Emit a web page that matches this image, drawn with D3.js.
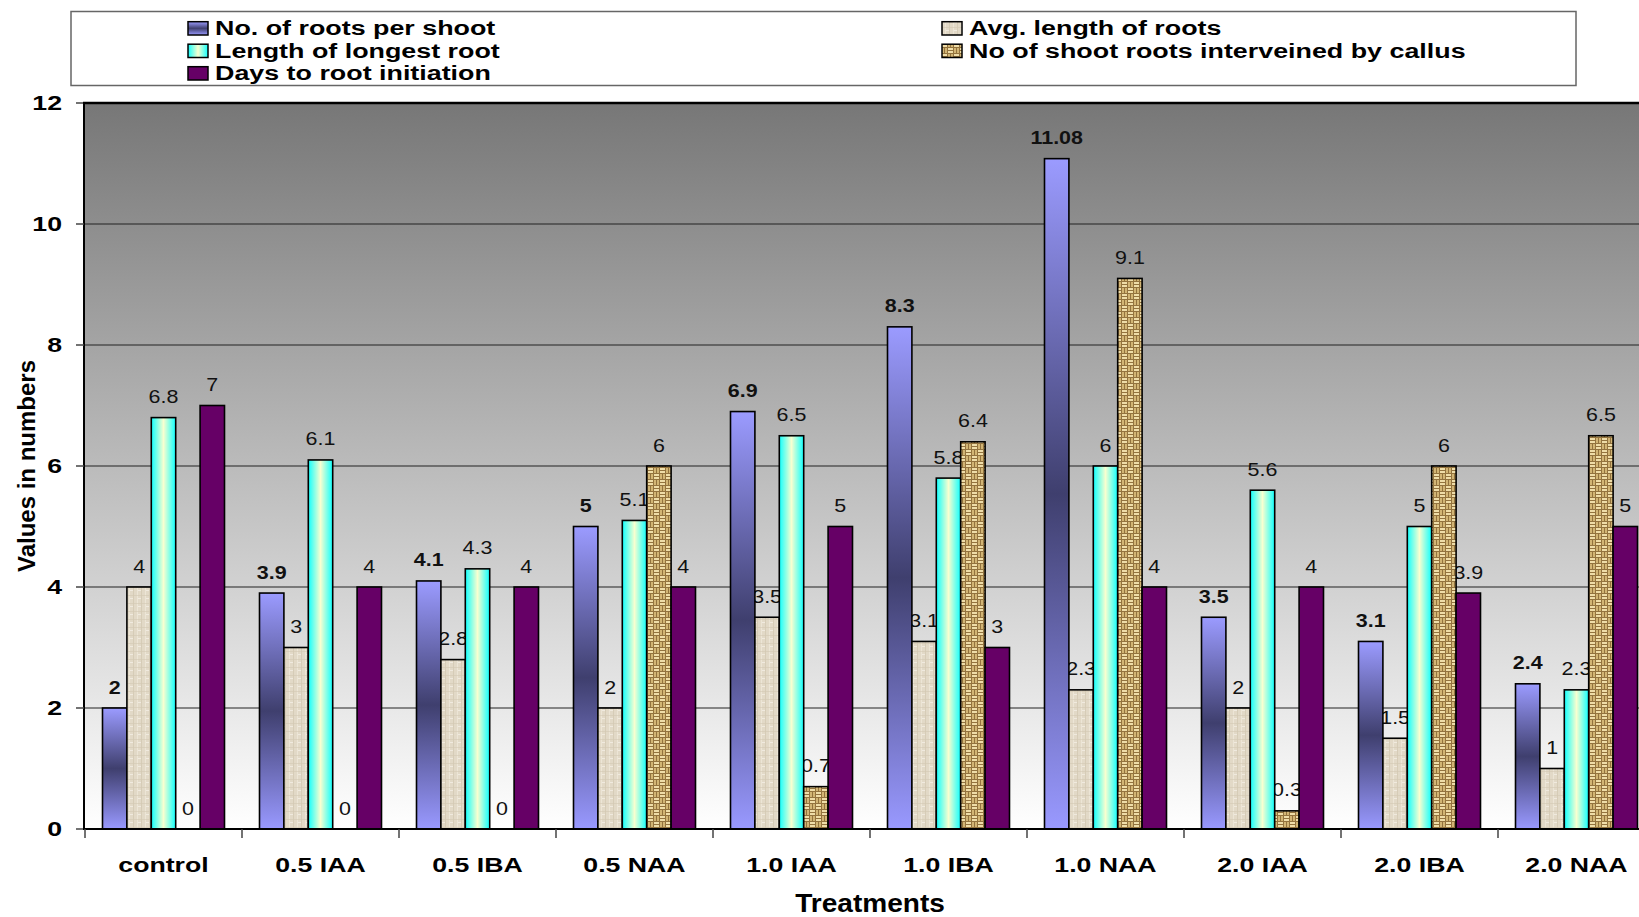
<!DOCTYPE html>
<html>
<head>
<meta charset="utf-8">
<script src="https://cdn.jsdelivr.net/npm/d3@7"></script>
<style>
  body { margin: 0; background: #fff; }
  svg { display: block; font-family: "Liberation Sans", Arial, sans-serif; }
</style>
</head>
<body>
<svg id="chart" width="1639" height="917"></svg>
<script>
const treatments = ['control', '0.5 IAA', '0.5 IBA', '0.5 NAA', '1.0 IAA', '1.0 IBA', '1.0 NAA', '2.0 IAA', '2.0 IBA', '2.0 NAA'];
const seriesNames = ['No. of roots per shoot', 'Avg. length of roots', 'Length of longest root', 'No of shoot roots interveined by callus', 'Days to root initiation'];

const rootsPerShoot = [2, 3.9, 4.1, 5, 6.9, 8.3, 11.08, 3.5, 3.1, 2.4];
const avgLength     = [4, 3, 2.8, 2, 3.5, 3.1, 2.3, 2, 1.5, 1];
const longestRoot   = [6.8, 6.1, 4.3, 5.1, 6.5, 5.8, 6, 5.6, 5, 2.3];
const callusRoots   = [0, 0, 0, 6, 0.7, 6.4, 9.1, 0.3, 6, 6.5];
const daysToInit    = [7, 4, 4, 4, 5, 3, 4, 4, 3.9, 5];
const yTicks = [0, 2, 4, 6, 8, 10, 12];

const seriesValues = [rootsPerShoot, avgLength, longestRoot, callusRoots, daysToInit];
const fills = ['url(#gBlue)', 'url(#pLinen)', 'url(#gCyan)', 'url(#pWeave)', '#660066'];

const svg = d3.select('#chart');
const defs = svg.append('defs');

// gradients
const gBlue = defs.append('linearGradient').attr('id', 'gBlue').attr('x1', 0).attr('y1', 0).attr('x2', 0).attr('y2', 1);
gBlue.append('stop').attr('offset', '0%').attr('stop-color', '#9b9bff');
gBlue.append('stop').attr('offset', '50%').attr('stop-color', '#3f3f6e');
gBlue.append('stop').attr('offset', '100%').attr('stop-color', '#9999ff');

const gCyan = defs.append('linearGradient').attr('id', 'gCyan').attr('x1', 0).attr('y1', 0).attr('x2', 1).attr('y2', 0);
gCyan.append('stop').attr('offset', '0%').attr('stop-color', '#10ffff');
gCyan.append('stop').attr('offset', '50%').attr('stop-color', '#f8ffd0');
gCyan.append('stop').attr('offset', '100%').attr('stop-color', '#10ffff');

const gBack = defs.append('linearGradient').attr('id', 'gBack').attr('x1', 0).attr('y1', 0).attr('x2', 0).attr('y2', 1);
gBack.append('stop').attr('offset', '0%').attr('stop-color', '#777777');
gBack.append('stop').attr('offset', '100%').attr('stop-color', '#ffffff');

// linen texture
const pl = defs.append('pattern').attr('id', 'pLinen').attr('patternUnits', 'userSpaceOnUse')
  .attr('width', 8).attr('height', 8);
pl.append('rect').attr('width', 8).attr('height', 8).attr('fill', '#e2d9c7');
pl.append('rect').attr('x', 1).attr('width', 1).attr('height', 8).attr('fill', '#ece5d6');
pl.append('rect').attr('x', 5).attr('width', 1).attr('height', 8).attr('fill', '#d6ccb7');
pl.append('rect').attr('y', 3).attr('width', 8).attr('height', 1).attr('fill', '#d3c8b2').attr('opacity', 0.6);
pl.append('rect').attr('x', 2).attr('y', 6).attr('width', 3).attr('height', 1).attr('fill', '#f0eadf');

// woven texture
const pw = defs.append('pattern').attr('id', 'pWeave').attr('patternUnits', 'userSpaceOnUse')
  .attr('width', 12).attr('height', 12);
pw.append('rect').attr('width', 12).attr('height', 12).attr('fill', '#93733e');
[[0, 0, 6, 2], [0, 3, 6, 2], [6, 6, 6, 2], [6, 9, 6, 2]].forEach(([x, y, w, h]) =>
  pw.append('rect').attr('x', x).attr('y', y).attr('width', w - 1).attr('height', h).attr('fill', '#efdda8'));
[[6, 0, 2, 6], [9, 0, 2, 6], [0, 6, 2, 6], [3, 6, 2, 6]].forEach(([x, y, w, h]) =>
  pw.append('rect').attr('x', x).attr('y', y).attr('width', w).attr('height', h - 1).attr('fill', '#d2b574'));

// scales
const plotLeft = 85, plotTop = 103, plotBottom = 829;
const x0 = d3.scaleBand().domain(treatments).range([plotLeft, plotLeft + 157 * treatments.length]);
const x1 = d3.scaleBand().domain(d3.range(seriesNames.length)).range([17.5, 139.5]);
const y = d3.scaleLinear().domain([0, 12]).range([plotBottom, plotTop]);
const plotRight = x0.range()[1];

// plot background
svg.append('rect').attr('x', plotLeft).attr('y', plotTop).attr('width', plotRight - plotLeft).attr('height', plotBottom - plotTop)
  .attr('fill', 'url(#gBack)');

// gridlines
svg.append('g').selectAll('line').data(yTicks.filter(d => d > 0 && d < 12)).join('line')
  .attr('x1', plotLeft).attr('x2', plotRight).attr('y1', d => y(d)).attr('y2', d => y(d))
  .attr('stroke', '#222').attr('stroke-width', 1.2);

// flat table of bars
const bars = [];
treatments.forEach((t, i) => seriesValues.forEach((vals, s) => bars.push({ t, s, v: vals[i] })));

// data labels (drawn under the bars, as in the original)
svg.append('g').selectAll('text').data(bars).join('text')
  .attr('transform', d => `translate(${x0(d.t) + x1(d.s) + x1.bandwidth() / 2},${y(d.v) - 14.5}) scale(1.16,1)`)
  .attr('text-anchor', 'middle')
  .attr('font-size', 18.5)
  .attr('font-weight', d => d.s === 0 ? 'bold' : 'normal')
  .attr('fill', '#111')
  .text(d => d.v);

// bars
svg.append('g').selectAll('rect').data(bars.filter(d => d.v > 0)).join('rect')
  .attr('x', d => x0(d.t) + x1(d.s))
  .attr('y', d => y(d.v))
  .attr('width', x1.bandwidth())
  .attr('height', d => y(0) - y(d.v))
  .attr('fill', d => fills[d.s])
  .attr('stroke', '#000')
  .attr('stroke-width', 1.6);

// axes
const yAxis = svg.append('g');
yAxis.append('line').attr('x1', plotLeft - 1).attr('x2', plotLeft - 1).attr('y1', plotTop).attr('y2', plotBottom)
  .attr('stroke', '#000').attr('stroke-width', 2);
yAxis.selectAll('.tk').data(yTicks).join('line').attr('class', 'tk')
  .attr('x1', 76).attr('x2', plotLeft - 1).attr('y1', d => y(d)).attr('y2', d => y(d))
  .attr('stroke', '#444').attr('stroke-width', 1.5);
yAxis.selectAll('text').data(yTicks).join('text')
  .attr('transform', d => `translate(62,${y(d) + 7}) scale(1.37,1)`)
  .attr('text-anchor', 'end').attr('font-size', 19.5).attr('font-weight', 'bold')
  .text(d => d);

svg.append('line').attr('x1', plotLeft - 2).attr('x2', plotRight).attr('y1', plotTop).attr('y2', plotTop)
  .attr('stroke', '#000').attr('stroke-width', 2.6);

const xAxis = svg.append('g');
xAxis.append('line').attr('x1', plotLeft - 2).attr('x2', plotRight).attr('y1', plotBottom).attr('y2', plotBottom)
  .attr('stroke', '#000').attr('stroke-width', 2);
xAxis.selectAll('.tk').data(d3.range(treatments.length + 1)).join('line').attr('class', 'tk')
  .attr('x1', d => plotLeft + d * x0.bandwidth()).attr('x2', d => plotLeft + d * x0.bandwidth())
  .attr('y1', plotBottom).attr('y2', plotBottom + 9)
  .attr('stroke', '#444').attr('stroke-width', 1.5);
xAxis.selectAll('text').data(treatments).join('text')
  .attr('transform', d => `translate(${x0(d) + x0.bandwidth() / 2},872) scale(1.27,1)`)
  .attr('text-anchor', 'middle').attr('font-size', 21).attr('font-weight', 'bold')
  .text(d => d);

// axis titles
svg.append('text')
  .attr('transform', 'translate(870,912) scale(1.1,1)')
  .attr('text-anchor', 'middle').attr('font-size', 25.5).attr('font-weight', 'bold')
  .text('Treatments');
svg.append('text')
  .attr('transform', `translate(35,${(plotTop + plotBottom) / 2}) rotate(-90)`)
  .attr('text-anchor', 'middle').attr('font-size', 24).attr('font-weight', 600)
  .text('Values in numbers');

// legend
svg.append('rect').attr('x', 71).attr('y', 11.5).attr('width', 1505).attr('height', 74)
  .attr('fill', '#fff').attr('stroke', '#666').attr('stroke-width', 1.5);

const legendPos = [
  { s: 0, x: 188, y: 35 }, { s: 1, x: 942, y: 35 },
  { s: 2, x: 188, y: 57.5 }, { s: 3, x: 942, y: 57.5 },
  { s: 4, x: 188, y: 80 }
];
const lg = svg.append('g').selectAll('g').data(legendPos).join('g');
lg.append('rect')
  .attr('x', d => d.x).attr('y', d => d.y - 13.3).attr('width', 20).attr('height', 13.3)
  .attr('fill', d => fills[d.s]).attr('stroke', '#000').attr('stroke-width', 1.5);
lg.append('text')
  .attr('transform', d => `translate(${d.x + 27},${d.y}) scale(1.31,1)`)
  .attr('font-size', 20.5).attr('font-weight', 'bold')
  .text(d => seriesNames[d.s]);
</script>
</body>
</html>
